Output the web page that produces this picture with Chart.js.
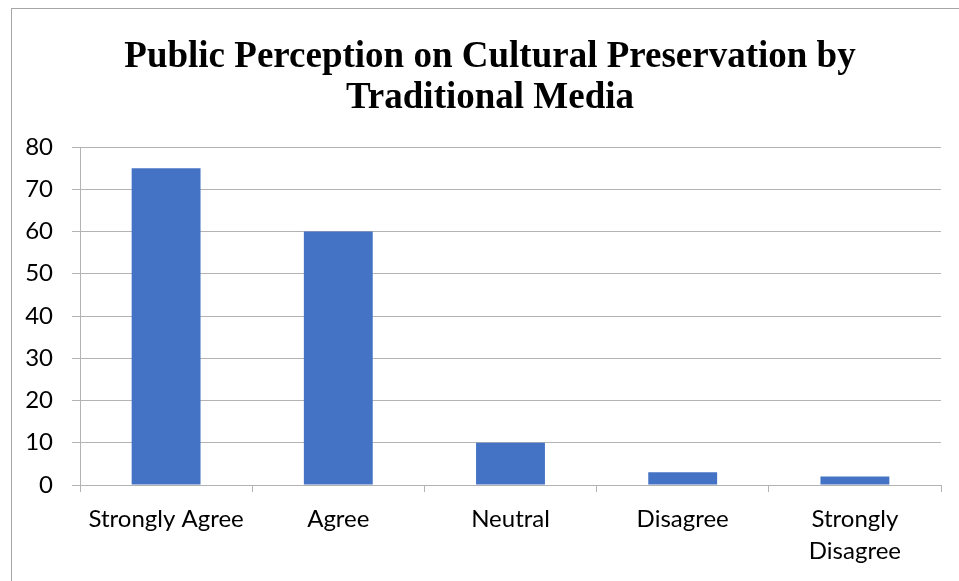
<!DOCTYPE html>
<html>
<head>
<meta charset="utf-8">
<script src="https://cdn.jsdelivr.net/npm/chart.js@4"></script>
<style>
  body { margin: 0; background: #fff; }
  #wrap { position: relative; width: 959px; height: 581px; overflow: hidden; }
  #frame { position: absolute; left: 11px; top: 8px; width: 960px; height: 600px;
           border-left: 1.5px solid #a6a6a6; border-top: 1.5px solid #a6a6a6; }
  #title { position: absolute; left: 90px; width: 800px; top: 34px; text-align: center;
           font: bold 37px/41px "Liberation Serif", "Times New Roman", serif; color: #000; }
  canvas { position: absolute; left: 0; top: 0; }
</style>
</head>
<body>
<div id="wrap">
  <div id="frame"></div>
  <canvas id="barChart" width="959" height="581"></canvas>
  <div id="title">Public Perception on Cultural Preservation by<br>Traditional Media</div>
</div>
<script>
const categories = ['Strongly Agree', 'Agree', 'Neutral', 'Disagree', 'Strongly Disagree'];
const responses = [75, 60, 10, 3, 2];
const yTicks = [0, 10, 20, 30, 40, 50, 60, 70, 80];

const gridGrey = '#b3b3b3';
const labelFont = { family: 'Lato, "Open Sans", sans-serif', size: 24 };

const ctx = document.getElementById('barChart').getContext('2d');
const chart = new Chart(ctx, {
  type: 'bar',
  data: {
    labels: categories,
    datasets: [{
      label: 'Responses',
      data: responses,
      backgroundColor: '#4472C4',
      barPercentage: 0.4,
      categoryPercentage: 1.0
    }]
  },
  options: {
    responsive: false,
    animation: false,
    layout: { padding: { left: 11, right: 18, top: 147, bottom: 0 } },
    plugins: {
      legend: { display: false },
      tooltip: { enabled: false },
      title: { display: false }
    },
    scales: {
      x: {
        grid: { display: true, drawOnChartArea: false, drawTicks: true, tickLength: 7, color: gridGrey, offset: true },
        border: { display: true, color: gridGrey },
        ticks: {
          color: '#000',
          font: { ...labelFont, lineHeight: 1.3 },
          padding: 12,
          maxRotation: 0,
          autoSkip: false,
          callback: function (v) {
            const s = this.getLabelForValue(v);
            return s.length > 15 ? s.split(' ') : s;
          }
        },
        afterFit: s => { s.height = 96; }
      },
      y: {
        min: 0,
        max: 80,
        grid: { color: gridGrey, tickLength: 8 },
        border: { display: true, color: gridGrey },
        afterBuildTicks: s => { s.ticks = yTicks.map(v => ({ value: v })); },
        ticks: { color: '#000', font: labelFont, padding: 19 },
        afterFit: s => { s.width = 69; }
      }
    }
  }
});
</script>
</body>
</html>
